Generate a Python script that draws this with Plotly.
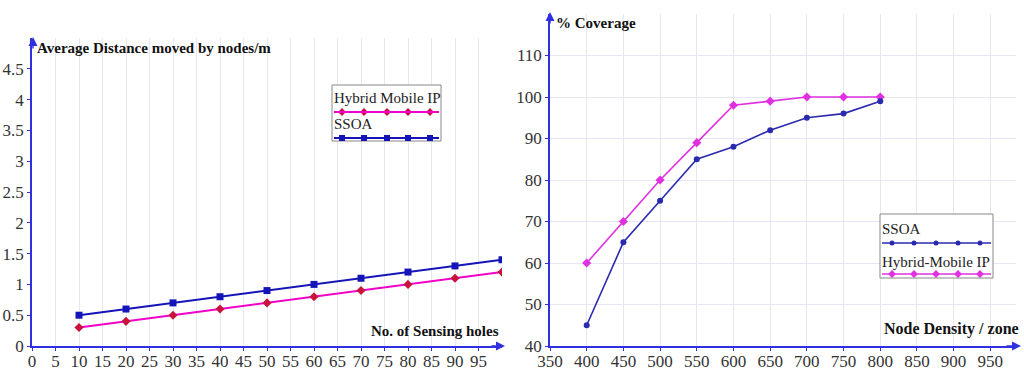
import plotly.graph_objects as go

# ---- data ----
holes = [10, 20, 30, 40, 50, 60, 70, 80, 90, 100]
dist_ssoa = [0.5, 0.6, 0.7, 0.8, 0.9, 1.0, 1.1, 1.2, 1.3, 1.4]
dist_hybrid = [0.3, 0.4, 0.5, 0.6, 0.7, 0.8, 0.9, 1.0, 1.1, 1.2]

density = [400, 450, 500, 550, 600, 650, 700, 750, 800]
cov_ssoa = [45, 65, 75, 85, 88, 92, 95, 96, 99]
cov_hybrid = [60, 70, 80, 89, 98, 99, 100, 100, 100]

left_xticks = list(range(0, 100, 5))
left_yticks = [0, 0.5, 1, 1.5, 2, 2.5, 3, 3.5, 4, 4.5]
right_xticks = list(range(350, 1000, 50))
right_yticks = [40, 50, 60, 70, 80, 90, 100, 110]

W, H = 1024, 372
SERIF = "Liberation Serif"
BLUE = "#1414B8"
MAG = "#F000C8"
RED = "#C8143C"
BLUE2 = "#2A2AB0"
MAG2 = "#E030E0"
AXC = "#3030E0"
GRID = "#E6E6F4"

def px(x):
    return x / W

def py(y):
    return 1 - y / H

fig = go.Figure()

# left chart
fig.add_trace(go.Scatter(x=holes, y=dist_hybrid, mode="lines+markers", xaxis="x", yaxis="y",
                         line=dict(color=MAG, width=2), marker=dict(symbol="diamond", size=7, color=RED),
                         showlegend=False))
fig.add_trace(go.Scatter(x=holes, y=dist_ssoa, mode="lines+markers", xaxis="x", yaxis="y",
                         line=dict(color=BLUE, width=2), marker=dict(symbol="square", size=7, color=BLUE),
                         showlegend=False))
# right chart
fig.add_trace(go.Scatter(x=density, y=cov_hybrid, mode="lines+markers", xaxis="x2", yaxis="y2",
                         line=dict(color=MAG2, width=1.6), marker=dict(symbol="diamond", size=7, color=MAG2),
                         showlegend=False))
fig.add_trace(go.Scatter(x=density, y=cov_ssoa, mode="lines+markers", xaxis="x2", yaxis="y2",
                         line=dict(color=BLUE2, width=1.6), marker=dict(symbol="circle", size=6, color=BLUE2),
                         showlegend=False))

# legend sample markers (decorations on pixel overlay axis)
lx1 = [342, 364, 387, 408, 430]
fig.add_trace(go.Scatter(x=lx1, y=[112] * 5, mode="markers", xaxis="x3", yaxis="y3",
                         marker=dict(symbol="diamond", size=6, color=RED), showlegend=False, hoverinfo="skip"))
fig.add_trace(go.Scatter(x=lx1, y=[138] * 5, mode="markers", xaxis="x3", yaxis="y3",
                         marker=dict(symbol="square", size=6, color=BLUE), showlegend=False, hoverinfo="skip"))
lx2 = [892, 914, 936, 958, 980]
fig.add_trace(go.Scatter(x=lx2, y=[243] * 5, mode="markers", xaxis="x3", yaxis="y3",
                         marker=dict(symbol="circle", size=5, color=BLUE2), showlegend=False, hoverinfo="skip"))
fig.add_trace(go.Scatter(x=lx2, y=[274] * 5, mode="markers", xaxis="x3", yaxis="y3",
                         marker=dict(symbol="diamond", size=6, color=MAG2), showlegend=False, hoverinfo="skip"))

tickfont = dict(family=SERIF, size=17, color="#333333")

def axis_common():
    return dict(showline=True, linecolor=AXC, linewidth=1.5, ticks="outside", ticklen=3,
                tickcolor=AXC, tickfont=tickfont, zeroline=False, gridcolor=GRID, gridwidth=1,
                automargin=False)

fig.update_layout(
    width=W, height=H, margin=dict(l=0, r=0, t=0, b=0, autoexpand=False),
    paper_bgcolor="white", plot_bgcolor="rgba(0,0,0,0)",
    font=dict(family=SERIF),
    xaxis=dict(**axis_common(), domain=[px(32), px(502)], range=[0, 100], tickvals=left_xticks,
               showgrid=True, anchor="y", ticklabelstandoff=-4),
    yaxis=dict(**axis_common(), domain=[py(346), py(38)], range=[0, 5], tickvals=left_yticks,
               ticktext=[f"{v:g}" for v in left_yticks], showgrid=False, anchor="x"),
    xaxis2=dict(**axis_common(), domain=[px(550), px(1016)], range=[350, 985], tickvals=right_xticks,
                showgrid=True, anchor="y2", ticklabelstandoff=-4),
    yaxis2=dict(**axis_common(), domain=[py(346), py(14)], range=[40, 120], tickvals=right_yticks,
                showgrid=True, anchor="x2"),
    xaxis3=dict(domain=[0, 1], range=[0, W], visible=False, anchor="y3", fixedrange=True, automargin=False),
    yaxis3=dict(domain=[0, 1], range=[H, 0], visible=False, anchor="x3", fixedrange=True, automargin=False),
)

shapes = []
# legend boxes
shapes.append(dict(type="rect", xref="x3", yref="y3", x0=332, x1=441, y0=85, y1=141,
                   line=dict(color="#888888", width=1), fillcolor="white", layer="below"))
shapes.append(dict(type="line", xref="x3", yref="y3", x0=334, x1=439, y0=112, y1=112,
                   line=dict(color=MAG, width=2)))
shapes.append(dict(type="line", xref="x3", yref="y3", x0=334, x1=439, y0=138, y1=138,
                   line=dict(color=BLUE, width=2)))
shapes.append(dict(type="rect", xref="x3", yref="y3", x0=880, x1=993, y0=214, y1=278,
                   line=dict(color="#888888", width=1), fillcolor="white", layer="below"))
shapes.append(dict(type="line", xref="x3", yref="y3", x0=882, x1=991, y0=243, y1=243,
                   line=dict(color=BLUE2, width=1.6)))
shapes.append(dict(type="line", xref="x3", yref="y3", x0=882, x1=991, y0=274, y1=274,
                   line=dict(color=MAG2, width=1.6)))
fig.update_layout(shapes=shapes)

ann = []
def text(x, y, s, size=15, bold=False, xanchor="left", color="#111111"):
    ann.append(dict(xref="x3", yref="y3", x=x, y=y, text=f"<b>{s}</b>" if bold else s, showarrow=False,
                    xanchor=xanchor, yanchor="middle", font=dict(family=SERIF, size=size, color=color)))

text(35, 48, "Average Distance moved by nodes/m", size=15, bold=True)
text(501, 331, "No. of Sensing holes", size=15, bold=True, xanchor="right")
text(554, 23, "% Coverage", size=15, bold=True)
text(1021, 329, "Node Density / zone", size=16, bold=True, xanchor="right")
text(332, 98, "Hybrid Mobile IP", size=15, color="#222222")
text(332, 124, "SSOA", size=15, color="#222222")
text(880, 229, "SSOA", size=15, color="#222222")
text(880, 262, "Hybrid-Mobile IP", size=15, color="#222222")

# axis arrowheads
def arrow(x, y, ax, ay):
    ann.append(dict(xref="x3", yref="y3", x=x, y=y, ax=ax, ay=ay, axref="x3", ayref="y3",
                    showarrow=True, arrowhead=2, arrowsize=1.2, arrowwidth=1.5, arrowcolor=AXC, text=""))

arrow(33, 37, 33, 50)
arrow(505, 346, 490, 346)
arrow(550, 12, 550, 25)
arrow(1021, 346, 1005, 346)
fig.update_layout(annotations=ann)

fig.write_html("out.html", config={"displayModeBar": False},
               post_script="document.body.style.margin='0';document.body.style.overflow='hidden';")
